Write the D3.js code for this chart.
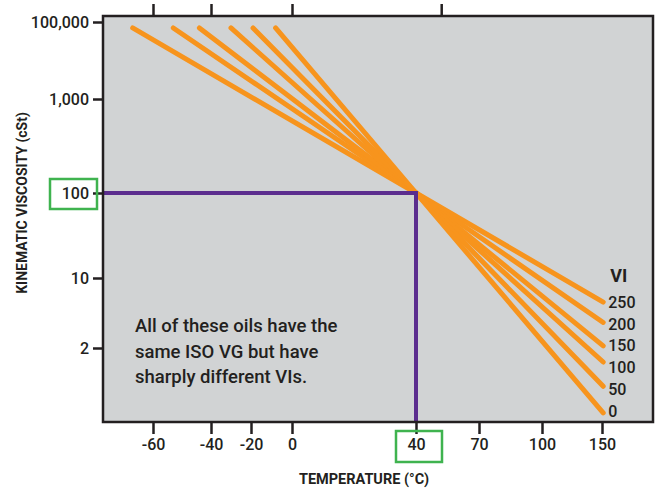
<!DOCTYPE html>
<html>
<head>
<meta charset="utf-8">
<script src="https://cdn.jsdelivr.net/npm/d3@7"></script>
<style>
  body { margin: 0; background: #fff; }
  text { font-family: Roboto, "Liberation Sans", Arial, sans-serif; fill: #231f20; }
</style>
</head>
<body>
<div id="chart"></div>
<script>
// tick values (axes are non-uniform in the original, so piecewise scales)
const xTicks = [-60, -40, -20, 0, 40, 70, 100, 150];
const xTopTicks = [-60, -40, 0, 52];
const yTicks = [2, 10, 100, 1000, 100000];
const yTickLabels = ["2", "10", "100", "1,000", "100,000"];

// oils: viscosity index and their line end points
const viLabels = [250, 200, 150, 100, 50, 0];
const startTemp = [-67, -53, -44, -30, -19, -8];
const startVisc = [70000, 70000, 70000, 70000, 70000, 70000];
const crossTemp = 40, crossVisc = 100;
const endTemp = [151, 151, 151, 151, 151, 151];
const endVisc = [5.75, 3.6, 2.1, 1.45, 0.83, 0.45];

const note = ["All of these oils have the", "same ISO VG but have", "sharply different VIs."];

const W = 662, H = 488;
const plot = { left: 103, right: 653, top: 16, bottom: 422 };

const svg = d3.select("#chart").append("svg")
    .attr("width", W)
    .attr("height", H);

// X scale: piecewise linear through the printed tick positions
const x = d3.scaleLinear()
    .domain(xTicks)
    .range([153, 211, 251, 292, 416, 479, 542, 602]);

// Y scale: piecewise on log10 of viscosity
const yLog = d3.scaleLinear()
    .domain(yTicks.map(v => Math.log10(v)))
    .range([348, 278, 193, 99, 22]);
const y = v => yLog(Math.log10(v));

// plot background
svg.append("rect")
    .attr("x", plot.left)
    .attr("y", plot.top)
    .attr("width", plot.right - plot.left)
    .attr("height", plot.bottom - plot.top)
    .attr("fill", "#d1d3d4");

// orange VI lines
const lines = viLabels.map((vi, i) => ({
  vi,
  pts: [[startTemp[i], startVisc[i]], [crossTemp, crossVisc], [endTemp[i], endVisc[i]]]
}));
const lineGen = d3.line().x(d => x(d[0])).y(d => y(d[1]));

svg.append("g").selectAll("path")
  .data(lines)
  .join("path")
    .attr("d", d => lineGen(d.pts))
    .attr("fill", "none")
    .attr("stroke", "#f7941d")
    .attr("stroke-width", 5)
    .attr("stroke-linecap", "round");

// VI labels
svg.append("text")
    .attr("x", x(151) + 7)
    .attr("y", y(10) + 4)
    .attr("font-size", 18)
    .attr("font-weight", "bold")
    .text("VI");

svg.append("g").selectAll("text")
  .data(lines)
  .join("text")
    .attr("x", x(151) + 5)
    .attr("y", (d, i) => 302 + i * 21.8)
    .attr("dy", "0.36em")
    .attr("font-size", 16)
    .attr("font-weight", 500)
    .text(d => d.vi);

// purple guide lines at 40 C / 100 cSt
svg.append("path")
    .attr("d", `M${plot.left},${y(crossVisc)}H${x(crossTemp)}V${plot.bottom}`)
    .attr("fill", "none")
    .attr("stroke", "#5b2d8e")
    .attr("stroke-width", 4);

// frame
svg.append("rect")
    .attr("x", plot.left)
    .attr("y", plot.top)
    .attr("width", plot.right - plot.left)
    .attr("height", plot.bottom - plot.top)
    .attr("fill", "none")
    .attr("stroke", "#231f20")
    .attr("stroke-width", 2.5);

// axes
const xAxis = svg.append("g")
    .attr("transform", `translate(0,${plot.bottom})`)
    .call(d3.axisBottom(x).tickValues(xTicks).tickSize(12).tickPadding(5)
      .tickFormat(d => String(d)));
const xTop = svg.append("g")
    .attr("transform", `translate(0,${plot.top})`)
    .call(d3.axisTop(x).tickValues(xTopTicks).tickSize(12).tickFormat(""));
const yAxis = svg.append("g")
    .attr("transform", `translate(${plot.left},0)`)
    .call(d3.axisLeft(yLog).tickValues(yTicks.map(v => Math.log10(v)))
      .tickSize(10).tickPadding(4)
      .tickFormat((d, i) => yTickLabels[i]));

[xAxis, xTop, yAxis].forEach(g => {
  g.select(".domain").remove();
  g.selectAll(".tick line").attr("stroke", "#231f20").attr("stroke-width", 2.5);
  g.selectAll(".tick text")
    .attr("font-size", 16)
    .attr("font-family", "Roboto, 'Liberation Sans', Arial, sans-serif")
    .attr("font-weight", 500)
    .attr("fill", "#231f20");
});

// green highlight boxes
svg.append("rect")
    .attr("x", 50).attr("y", 179)
    .attr("width", 47).attr("height", 30)
    .attr("fill", "none")
    .attr("stroke", "#3fb34f")
    .attr("stroke-width", 2.5);
svg.append("rect")
    .attr("x", 396).attr("y", 431)
    .attr("width", 46).attr("height", 31)
    .attr("fill", "none")
    .attr("stroke", "#3fb34f")
    .attr("stroke-width", 2.5);

// axis titles
svg.append("text")
    .attr("transform", `translate(27,203) rotate(-90)`)
    .attr("text-anchor", "middle")
    .attr("font-size", 14)
    .attr("font-weight", "bold")
    .attr("font-family", "'Liberation Sans', Arial, sans-serif")
    .text("KINEMATIC VISCOSITY (cSt)");

svg.append("text")
    .attr("x", 364)
    .attr("y", 484)
    .attr("text-anchor", "middle")
    .attr("font-size", 14.5)
    .attr("font-weight", "bold")
    .attr("font-family", "'Liberation Sans', Arial, sans-serif")
    .text("TEMPERATURE (°C)");

// annotation
svg.append("text")
    .attr("x", 135)
    .attr("y", 332)
    .attr("font-size", 18.5)
    .attr("font-weight", 500)
    .attr("fill", "#2b2b2b")
    .selectAll("tspan")
    .data(note)
    .join("tspan")
      .attr("x", 135)
      .attr("dy", (d, i) => i === 0 ? 0 : 25.5)
      .text(d => d);
</script>
</body>
</html>
